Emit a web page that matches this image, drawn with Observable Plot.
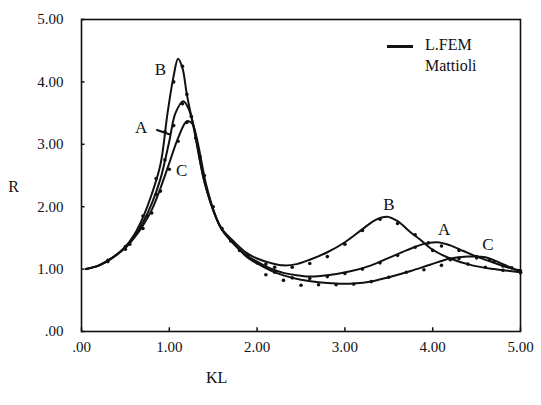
<!DOCTYPE html>
<html><head><meta charset="utf-8">
<script src="https://cdn.jsdelivr.net/npm/d3@7"></script>
<script src="https://cdn.jsdelivr.net/npm/@observablehq/plot@0.6"></script>
<style>
body{margin:0;background:#fff;}
#wrap{position:relative;width:541px;height:405px;font-family:"Liberation Serif","Times New Roman",Times,"DejaVu Serif","Noto Serif",serif;}
#legend{position:absolute;left:387px;top:34px;font-size:16px;line-height:21px;color:#111;}
#legend .sw{display:inline-block;width:26px;height:3px;background:#111;vertical-align:middle;margin-right:12px;}
</style>
</head><body><div id="wrap"><div id="legend"><div><span class="sw"></span>L.FEM</div><div style="padding-left:38px">Mattioli</div></div></div>
<script>
// L.FEM curves [KL, R]
const curveA = [[0.05,1.0],[0.2,1.06],[0.35,1.18],[0.5,1.35],[0.6,1.52],[0.7,1.75],[0.8,2.05],[0.9,2.45],[1.0,3.05],[1.07,3.5],[1.16,3.69],[1.22,3.57],[1.28,3.28],[1.4,2.4],[1.54,1.8],[1.6,1.63],[1.75,1.38],[1.88,1.22],[2.0,1.12],[2.15,1.01],[2.3,0.94],[2.45,0.9],[2.6,0.88],[2.8,0.9],[3.05,0.96],[3.3,1.06],[3.5,1.18],[3.7,1.3],[3.89,1.4],[4.05,1.43],[4.2,1.38],[4.35,1.29],[4.5,1.2],[4.7,1.1],[4.85,1.03],[5.0,0.98]];
const curveB = [[0.05,1.0],[0.2,1.06],[0.35,1.18],[0.5,1.36],[0.6,1.55],[0.7,1.83],[0.8,2.2],[0.9,2.68],[0.98,3.5],[1.05,4.1],[1.1,4.37],[1.15,4.22],[1.2,3.8],[1.28,3.25],[1.4,2.4],[1.54,1.8],[1.6,1.64],[1.75,1.42],[1.88,1.26],[2.0,1.17],[2.15,1.1],[2.3,1.06],[2.45,1.08],[2.6,1.15],[2.8,1.27],[3.0,1.43],[3.2,1.64],[3.35,1.79],[3.48,1.84],[3.6,1.77],[3.74,1.6],[3.86,1.47],[4.0,1.31],[4.2,1.17],[4.45,1.06],[4.7,1.0],[5.0,0.95]];
const curveC = [[0.05,1.0],[0.2,1.06],[0.35,1.18],[0.5,1.34],[0.6,1.5],[0.7,1.7],[0.8,1.95],[0.9,2.3],[1.0,2.7],[1.1,3.1],[1.2,3.37],[1.26,3.33],[1.32,3.05],[1.42,2.35],[1.54,1.8],[1.6,1.63],[1.75,1.38],[1.88,1.2],[2.0,1.09],[2.15,0.98],[2.3,0.9],[2.5,0.83],[2.7,0.79],[2.9,0.77],[3.1,0.77],[3.3,0.8],[3.5,0.87],[3.75,0.97],[3.97,1.07],[4.2,1.17],[4.4,1.2],[4.6,1.19],[4.8,1.08],[5.0,0.95]];
// Mattioli points [KL, R]
const dotsA = [[0.3,1.12],[0.5,1.32],[0.65,1.62],[0.75,1.85],[0.85,2.2],[0.95,2.75],[1.05,3.3],[1.15,3.65],[1.25,3.45],[1.4,2.5],[1.6,1.65],[1.8,1.3],[2.0,1.1],[2.2,0.95],[2.4,0.86],[2.6,0.85],[2.8,0.88],[3.0,0.93],[3.2,1.0],[3.4,1.1],[3.6,1.22],[3.8,1.35],[3.95,1.42],[4.1,1.37],[4.3,1.3],[4.5,1.2],[4.65,1.15],[4.8,1.05],[5.0,0.97]];
const dotsB = [[0.3,1.14],[0.5,1.36],[0.7,1.85],[0.85,2.45],[0.95,3.2],[1.05,4.0],[1.15,4.25],[1.2,3.8],[1.35,2.8],[1.5,2.0],[1.7,1.45],[1.9,1.22],[2.1,1.08],[2.2,1.03],[2.4,1.03],[2.6,1.09],[2.8,1.2],[3.0,1.4],[3.2,1.62],[3.4,1.8],[3.6,1.73],[3.8,1.55],[4.0,1.3],[4.2,1.15],[4.4,1.08],[4.6,1.03],[4.8,0.98],[5.0,0.94]];
const dotsC = [[0.55,1.4],[0.7,1.65],[0.8,1.9],[0.9,2.25],[1.0,2.6],[1.1,3.05],[1.2,3.35],[1.3,3.1],[2.1,0.91],[2.3,0.82],[2.5,0.74],[2.7,0.75],[2.9,0.75],[3.1,0.76],[3.3,0.8],[3.5,0.87],[3.7,0.95],[3.9,0.99],[4.1,1.06],[4.3,1.17],[4.5,1.18],[4.7,1.12],[4.9,1.02],[5.0,0.95]];
// curve labels [name, KL, R]
const curveLabels = [["B",0.9,4.2],["A",0.68,3.27],["C",1.14,2.58],["B",3.5,2.04],["A",4.13,1.64],["C",4.63,1.39]];
const pointerA = [[0.86,3.23],[1.0,3.16]];
const xTicks = [0,1,2,3,4,5];
const yTicks = [0,1,2,3,4,5];
const fmt = d => d === 0 ? ".00" : d.toFixed(2);

const all = (arr, s) => arr.map(([x,y]) => ({x, y, s}));
const lines = [...all(curveA,"A"), ...all(curveB,"B"), ...all(curveC,"C")];
const dots = [...all(dotsA,"A"), ...all(dotsB,"B"), ...all(dotsC,"C")];
const serif = '"Liberation Serif","Times New Roman",Times,"DejaVu Serif","Noto Serif",serif';

const chart = Plot.plot({
  width: 541, height: 405,
  marginLeft: 81, marginRight: 21, marginTop: 19, marginBottom: 74,
  style: {fontFamily: serif, fontSize: "15px", color: "#111", background: "#fff"},
  x: {domain: [0,5]},
  y: {domain: [0,5]},
  marks: [
    Plot.frame({stroke: "#111", strokeWidth: 1.6}),
    Plot.ruleX(xTicks, {x: d => d, y1: 0, y2: 0.06, stroke: "#111", strokeWidth: 1.5}),
    Plot.ruleY(yTicks, {y: d => d, x1: 0, x2: 0.04, stroke: "#111", strokeWidth: 1.5}),
    Plot.axisX({ticks: xTicks, tickFormat: fmt, tickSize: 0, tickPadding: 10, label: null, fontFamily: serif}),
    Plot.axisY({ticks: yTicks, tickFormat: fmt, tickSize: 0, tickPadding: 18, label: null, fontFamily: serif}),
    Plot.text(["R"], {frameAnchor: "left", dx: -68, y: () => 2.32, fontSize: 16, textAnchor: "middle", fontFamily: serif}),
    Plot.text(["KL"], {frameAnchor: "bottom", dy: 51, x: () => 1.54, fontSize: 16, fontFamily: serif}),
    Plot.line(lines, {x: "x", y: "y", z: "s", stroke: "#111", strokeWidth: 2, curve: "catmull-rom"}),
    Plot.dot(dots, {x: "x", y: "y", r: 1.8, fill: "#111", stroke: null}),
    Plot.line(pointerA, {x: d => d[0], y: d => d[1], stroke: "#111", strokeWidth: 2}),
    Plot.text(curveLabels, {x: d => d[1], y: d => d[2], text: d => d[0], fontSize: 17, fill: "#111", fontFamily: serif})
  ]
});
document.getElementById("wrap").prepend(chart);
</script></body></html>
